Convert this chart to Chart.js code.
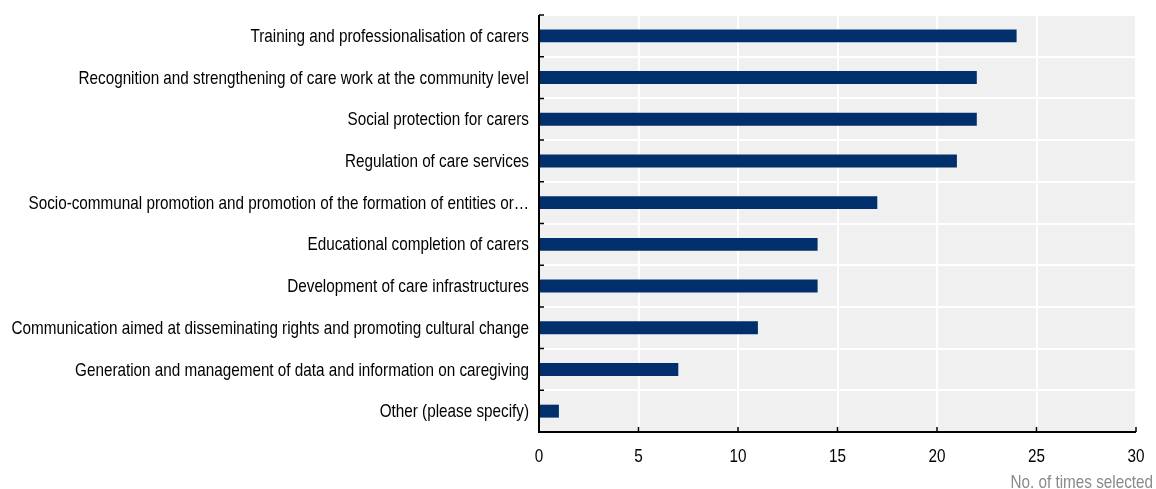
<!DOCTYPE html>
<html>
<head>
<meta charset="utf-8">
<script src="https://cdn.jsdelivr.net/npm/chart.js@4/dist/chart.umd.min.js"></script>
<style>
  html, body { margin: 0; padding: 0; background: #fff; }
  #wrap { width: 1156px; height: 489px; position: relative; }
</style>
</head>
<body>
<div id="wrap"><canvas id="grafico"></canvas></div>
<script>
// Categorias e valores (no. de vezes selecionado)
const categorias = [
  'Training and professionalisation of carers',
  'Recognition and strengthening of care work at the community level',
  'Social protection for carers',
  'Regulation of care services',
  'Socio-communal promotion and promotion of the formation of entities or\u2026',
  'Educational completion of carers',
  'Development of care infrastructures',
  'Communication aimed at disseminating rights and promoting cultural change',
  'Generation and management of data and information on caregiving',
  'Other (please specify)'
];
const valores = [24, 22, 22, 21, 17, 14, 14, 11, 7, 1];
const ticksX = [0, 5, 10, 15, 20, 25, 30];
const tituloX = 'No. of times selected';

const fonte = '18.5px "Liberation Sans", Arial, sans-serif';
const estreito = 0.825; // simula uma fonte condensada

// texto comprimido na horizontal
function textoEstreito(ctx, txt, x, y, align) {
  ctx.save();
  ctx.translate(x, y);
  ctx.scale(estreito, 1);
  ctx.textAlign = align;
  ctx.textBaseline = 'middle';
  ctx.fillText(txt, 0, 0);
  ctx.restore();
}

// fundo cinza, eixos pretos com marcas para dentro, rótulos e título do eixo
const estiloOCDE = {
  id: 'estiloOCDE',
  beforeDraw(chart) {
    const { ctx, chartArea: a } = chart;
    ctx.save();
    ctx.fillStyle = '#f0f0f0';
    ctx.fillRect(a.left, a.top, a.right - a.left, a.bottom - a.top);
    ctx.restore();
  },
  afterDraw(chart) {
    const { ctx, chartArea: a, scales } = chart;
    const x = scales.x, y = scales.y;
    ctx.save();
    ctx.strokeStyle = '#000';
    ctx.lineWidth = 2;
    ctx.beginPath();
    ctx.moveTo(a.left, a.top);
    ctx.lineTo(a.left, a.bottom);
    ctx.lineTo(a.right, a.bottom);
    ctx.stroke();
    ctx.lineWidth = 1.5;
    ctx.beginPath();
    // marcas do eixo y nos limites das categorias
    for (let i = 0; i <= categorias.length; i++) {
      const py = y.getPixelForValue(i - 0.5);
      ctx.moveTo(a.left, py);
      ctx.lineTo(a.left + 5, py);
    }
    // marcas do eixo x
    ticksX.forEach(v => {
      const px = x.getPixelForValue(v);
      ctx.moveTo(px, a.bottom);
      ctx.lineTo(px, a.bottom - 5);
    });
    ctx.stroke();

    ctx.font = fonte;
    ctx.fillStyle = '#000';
    categorias.forEach((c, i) => textoEstreito(ctx, c, a.left - 10, y.getPixelForValue(i) + 1, 'right'));
    ticksX.forEach(v => textoEstreito(ctx, String(v), x.getPixelForValue(v), a.bottom + 25, 'center'));

    ctx.fillStyle = '#8a8a8a';
    textoEstreito(ctx, tituloX, chart.width - 3, 483, 'right');
    ctx.restore();
  }
};

const ctx = document.getElementById('grafico').getContext('2d');
const chart = new Chart(ctx, {
  type: 'bar',
  data: {
    labels: categorias,
    datasets: [{
      data: valores,
      backgroundColor: '#002f6c',
      borderWidth: 0,
      categoryPercentage: 1,
      barPercentage: 0.31
    }]
  },
  options: {
    indexAxis: 'y',
    responsive: true,
    maintainAspectRatio: false,
    animation: false,
    layout: { padding: { top: 15, right: 20, left: 0, bottom: 0 } },
    plugins: { legend: { display: false }, tooltip: { enabled: false } },
    scales: {
      x: {
        min: 0,
        max: 30,
        afterBuildTicks: s => { s.ticks = ticksX.map(v => ({ value: v })); },
        afterFit: s => { s.height = 57; },
        border: { display: false },
        grid: { color: '#ffffff', lineWidth: 2, drawTicks: false },
        ticks: { display: false }
      },
      y: {
        afterFit: s => { s.width = 539; },
        border: { display: false },
        grid: { offset: true, color: '#ffffff', lineWidth: 2, drawTicks: false },
        ticks: { display: false, autoSkip: false }
      }
    }
  },
  plugins: [estiloOCDE]
});
</script>
</body>
</html>
